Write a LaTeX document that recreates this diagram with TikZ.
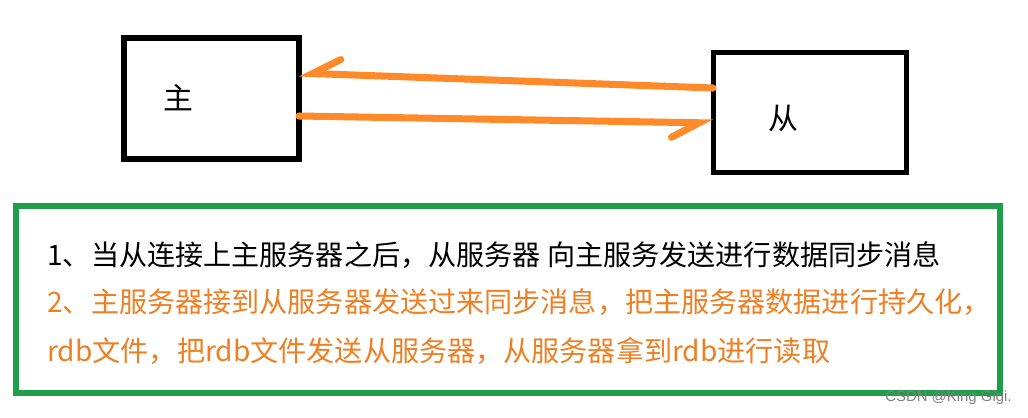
\documentclass[tikz,border=0pt]{standalone}
\usepackage{fontspec}
\newfontfamily\cjk{Noto Sans CJK SC}
\newfontfamily\wmfont{Liberation Sans}
\usetikzlibrary{arrows.meta}
\definecolor{lineorange}{HTML}{FF8A2A}
\definecolor{textorange}{HTML}{EE7F22}
\definecolor{boxgreen}{HTML}{1F9D4A}

\begin{document}
\begin{tikzpicture} [x=0.02cm, y=-0.02cm,
  server/.style={draw, rectangle, inner sep=0pt, outer sep=0pt, minimum height=2.42cm},
  sync/.style={draw=lineorange, line width=4pt, line cap=round,
    -{Straight Barb[harpoon,swap,length=0.55cm,width=0.6cm,line cap=round]}},
  msg/.style={anchor=west, inner sep=0pt, font=\cjk\fontsize{16}{16}\selectfont}]
 \useasboundingbox (0,0) rectangle (1028,417);
 % servers
 \node [server, line width=0.12cm, minimum width=3.5cm] (zhu) at (211.5,98.5) {};
 \node [server, line width=0.1cm, minimum width=3.88cm] (cong) at (810,112.5) {};
 \draw (178,98) node [font=\cjk\fontsize{17}{17}\selectfont] (zhulabel) {主};
 \draw (783,118) node [font=\cjk\fontsize{17}{17}\selectfont] (conglabel) {从};
 % sync arrows
 \draw [sync] ([yshift=0.49cm]cong.west) -- ([yshift=0.51cm]zhu.east);
 \draw [sync] ([yshift=-0.35cm]zhu.east) -- ([yshift=-0.21cm]cong.west);
 % notes
 \draw [boxgreen, line width=0.12cm] (16,206) rectangle (1000,393);
 \node [msg] (note1) at (47,255) {1、当从连接上主服务器之后，从服务器 向主服务发送进行数据同步消息};
 \node [msg, text=textorange] (note2) at (47,302) {2、主服务器接到从服务器发送过来同步消息，把主服务器数据进行持久化，};
 \node [msg, text=textorange] (note3) at (47,351) {rdb文件，把rdb文件发送从服务器，从服务器拿到rdb进行读取};
 \node [anchor=east, inner sep=0pt, text=gray, font=\wmfont\fontsize{8.5}{8.5}\selectfont] (mark) at (1012,398) {CSDN @King Gigi.};
\end{tikzpicture}
\end{document}
